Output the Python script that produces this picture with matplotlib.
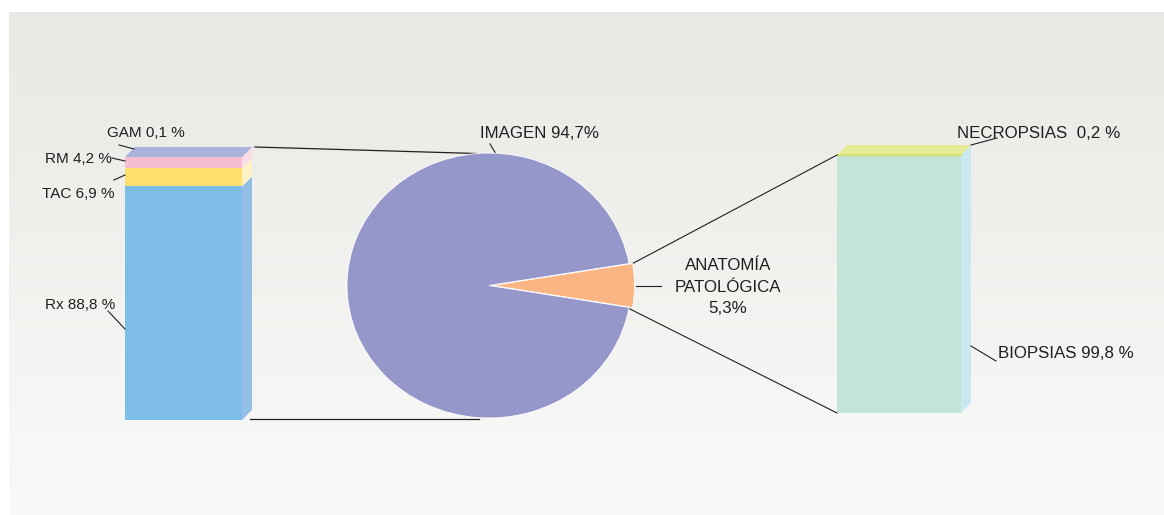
import numpy as np
import matplotlib
matplotlib.use('Agg')
import matplotlib.pyplot as plt
from matplotlib.patches import Polygon

plt.rcParams['font.family'] = ['Liberation Sans', 'DejaVu Sans']

# datos
img_labels = ['Rx', 'TAC', 'RM', 'GAM']
img_vals = [88.8, 6.9, 4.2, 0.1]
img_front = ['#7dbde8', '#ffdf6e', '#f6bfd0', '#a9b3dc']
img_side = ['#93bfe6', '#fff2c6', '#fbdbe5', '#dfe3f3']

pie_labels = ['ANATOMÍA\nPATOLÓGICA\n5,3%', 'IMAGEN 94,7%']
pie_vals = [5.3, 94.7]
pie_colors = ['#fbb582', '#9597cb']

ap_labels = ['BIOPSIAS', 'NECROPSIAS']
ap_vals = [99.8, 0.2]
ap_front = ['#c4e4d8', '#e6eb97']
ap_side = ['#c9e9f0', '#eef2c0']

W, H = 1164, 515
fig = plt.figure(figsize=(W / 100, H / 100), dpi=100)
ax = fig.add_axes([0, 0, 1, 1])
ax.set_xlim(0, W)
ax.set_ylim(H, 0)
ax.axis('off')

# fondo degradado
grad = np.linspace(0, 1, 256).reshape(-1, 1)
top_c = np.array([0.910, 0.910, 0.894])
bot_c = np.array([0.980, 0.980, 0.976])
bg = top_c + (bot_c - top_c) * grad[..., None]
bg = np.repeat(bg, 2, axis=1)
ax.imshow(bg, extent=[9, W, H, 12], aspect='auto', zorder=0)

txt = '#231f20'
fs = 12.2
fs_small = 11
depth = 10


def bar3d(x0, width, bottom, height, vals, front, side, top_line=None):
    scale = height / sum(vals)
    y = bottom
    for i, v in enumerate(vals):
        h = v * scale
        y1 = y - h
        ax.add_patch(Polygon([[x0, y], [x0 + width, y], [x0 + width, y1], [x0, y1]],
                             closed=True, fc=front[i], ec='none', zorder=2))
        ax.add_patch(Polygon([[x0 + width, y], [x0 + width + depth, y - depth],
                              [x0 + width + depth, y1 - depth], [x0 + width, y1]],
                             closed=True, fc=side[i], ec='none', zorder=2))
        y = y1
    # cara superior
    ax.add_patch(Polygon([[x0, y], [x0 + width, y], [x0 + width + depth, y - depth],
                          [x0 + depth, y - depth]],
                         closed=True, fc=front[-1], ec='none', zorder=2))
    if top_line:
        ax.plot([x0, x0 + width], [y, y], color=top_line, lw=1.5, zorder=3)
    return y


# barra izquierda (imagen)
lx, lw_, lb, lh = 125, 117, 420, 263
ltop = bar3d(lx, lw_, lb, lh, img_vals, img_front, img_side)

# barra derecha (anatomía patológica)
rx, rw, rb, rh = 837, 124, 413, 258
rtop = bar3d(rx, rw, rb, rh, ap_vals, ap_front, ap_side, top_line='#d9df6c')

# tarta
cx, cy, prx, pry = 489, 285.5, 142, 132.5
pax = fig.add_axes([(cx - prx) / W, (H - cy - pry) / H, 2 * prx / W, 2 * pry / H])
half = pie_vals[0] * 3.6 / 2
explode = [0.025, 0]
pax.pie(pie_vals, colors=pie_colors, startangle=-half, counterclock=True,
        explode=explode, radius=1, frame=False,
        wedgeprops=dict(linewidth=0.6, edgecolor='white'))
pax.set_aspect('auto')
pax.set_xlim(-1, 1)
pax.set_ylim(-1, 1)
pax.axis('off')
for p in pax.patches:
    p.set_clip_on(False)


def pie_pt(deg, r=1.0, shift=0.0):
    t = np.radians(deg)
    return cx + prx * (shift + r * np.cos(t)), cy - pry * r * np.sin(t)


lc = '#231f20'
# líneas de conexión
px, py = pie_pt(95)
ax.plot([lx + lw_ + depth + 3, px], [ltop - depth, py], color=lc, lw=0.9, zorder=3)
px, py = pie_pt(-94)
ax.plot([lx + lw_ + 8, px], [lb - 1, lb - 1], color=lc, lw=0.9, zorder=3)
ex = explode[0]
px, py = pie_pt(half, shift=ex)
ax.plot([px, rx], [py, rtop], color=lc, lw=0.8, zorder=3)
px, py = pie_pt(-half, shift=ex - 0.04)
ax.plot([px, rx], [py, rb], color=lc, lw=0.8, zorder=3)


def pct(name, v, sep=' '):
    return f'{name}{sep}{v:.1f} %'.replace('.', ',')


# etiquetas barra izquierda
ax.plot([108, lx], [311, 329], color=lc, lw=0.8)
ax.text(115, 305, pct(img_labels[0], img_vals[0]), ha='right', va='center',
        fontsize=fs_small, color=txt)
ax.plot([114, lx], [180, 175], color=lc, lw=0.8)
ax.text(115, 194, pct(img_labels[1], img_vals[1]), ha='right', va='center',
        fontsize=fs_small, color=txt)
ax.plot([112, lx], [158, 161], color=lc, lw=0.8)
ax.text(112, 159, pct(img_labels[2], img_vals[2]), ha='right', va='center',
        fontsize=fs_small, color=txt)
ax.plot([119, 134], [145, 149], color=lc, lw=0.8)
ax.text(107, 133, pct(img_labels[3], img_vals[3]), ha='left', va='center',
        fontsize=fs_small, color=txt)

# etiquetas tarta
ax.plot([490, 496], [144, 154], color=lc, lw=0.8)
ax.text(540, 133, pie_labels[1], ha='center', va='center', fontsize=fs, color=txt)
ax.plot([636, 661], [286, 286], color=lc, lw=0.8)
ax.text(728, 287, pie_labels[0], ha='center', va='center', fontsize=fs,
        color=txt, linespacing=1.55)

# etiquetas barra derecha
ax.plot([971, 997], [145, 138], color=lc, lw=0.8)
ax.text(957, 133, pct(ap_labels[1], ap_vals[1], sep='  '), ha='left', va='center',
        fontsize=fs, color=txt)
ax.plot([971, 996], [346, 361], color=lc, lw=0.8)
ax.text(998, 354, pct(ap_labels[0], ap_vals[0]), ha='left', va='center',
        fontsize=fs, color=txt)

fig.savefig('out.png', dpi=100, facecolor='white')
